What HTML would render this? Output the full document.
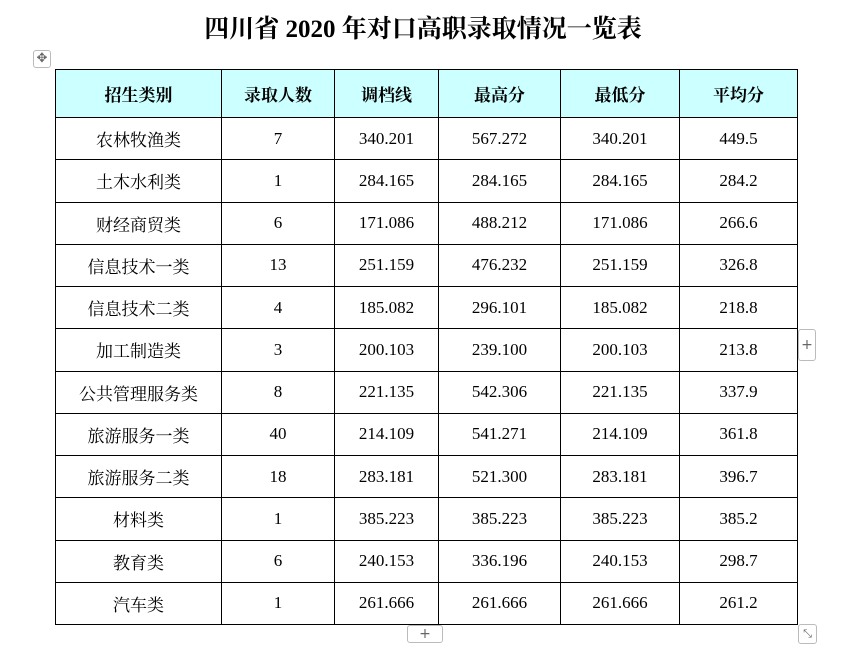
<!DOCTYPE html>
<html><head><meta charset="utf-8"><style>
body{margin:0;width:860px;height:661px;background:#fff;position:relative;font-family:"Liberation Serif","Noto Serif CJK SC",serif;overflow:hidden}
h1{position:absolute;top:11px;left:0;width:846px;text-align:center;margin:0;font-size:25px;font-weight:bold;color:#000;line-height:38px}
table{position:absolute;left:55px;top:69px;border-collapse:collapse;table-layout:fixed}
td,th{border:1.5px solid #000;text-align:center;padding:0;font-size:17px;color:#000}
th{background:#ccffff;height:47px;font-weight:bold}
td{height:41.25px}
.ico{position:absolute;border:1px solid #bbb;border-radius:3px;background:#fff;color:#666;font-family:"DejaVu Sans",sans-serif;text-align:center;box-sizing:border-box}
</style></head><body>
<h1>四川省 2020 年对口高职录取情况一览表</h1>
<div class="ico" style="left:33px;top:50px;width:18px;height:18px;font-size:13px;line-height:16px">✥</div>
<table>
<colgroup><col style="width:166px"><col style="width:113px"><col style="width:104px"><col style="width:122px"><col style="width:119px"><col style="width:118px"></colgroup>
<thead><tr><th>招生类别</th><th>录取人数</th><th>调档线</th><th>最高分</th><th>最低分</th><th>平均分</th></tr></thead>
<tbody id="tb"></tbody>
</table>
<div class="ico" style="left:798px;top:329px;width:18px;height:32px;font-size:14px;line-height:30px">+</div>
<div class="ico" style="left:407px;top:625px;width:36px;height:18px;font-size:14px;line-height:16px">+</div>
<div class="ico" style="left:798px;top:624px;width:19px;height:20px;font-size:11px;line-height:18px">⤡</div>
<script>
const categories=["农林牧渔类","土木水利类","财经商贸类","信息技术一类","信息技术二类","加工制造类","公共管理服务类","旅游服务一类","旅游服务二类","材料类","教育类","汽车类"];
const admitted=[7,1,6,13,4,3,8,40,18,1,6,1];
const cutoff=["340.201","284.165","171.086","251.159","185.082","200.103","221.135","214.109","283.181","385.223","240.153","261.666"];
const highest=["567.272","284.165","488.212","476.232","296.101","239.100","542.306","541.271","521.300","385.223","336.196","261.666"];
const lowest=["340.201","284.165","171.086","251.159","185.082","200.103","221.135","214.109","283.181","385.223","240.153","261.666"];
const average=["449.5","284.2","266.6","326.8","218.8","213.8","337.9","361.8","396.7","385.2","298.7","261.2"];
const tb=document.getElementById('tb');
categories.forEach((c,i)=>{
  const tr=document.createElement('tr');
  
  
  [c,admitted[i],cutoff[i],highest[i],lowest[i],average[i]].forEach(v=>{
    const td=document.createElement('td');
    
    
    td.textContent=v;tr.appendChild(td);
  });
  tb.appendChild(tr);
});
</script>
</body></html>
